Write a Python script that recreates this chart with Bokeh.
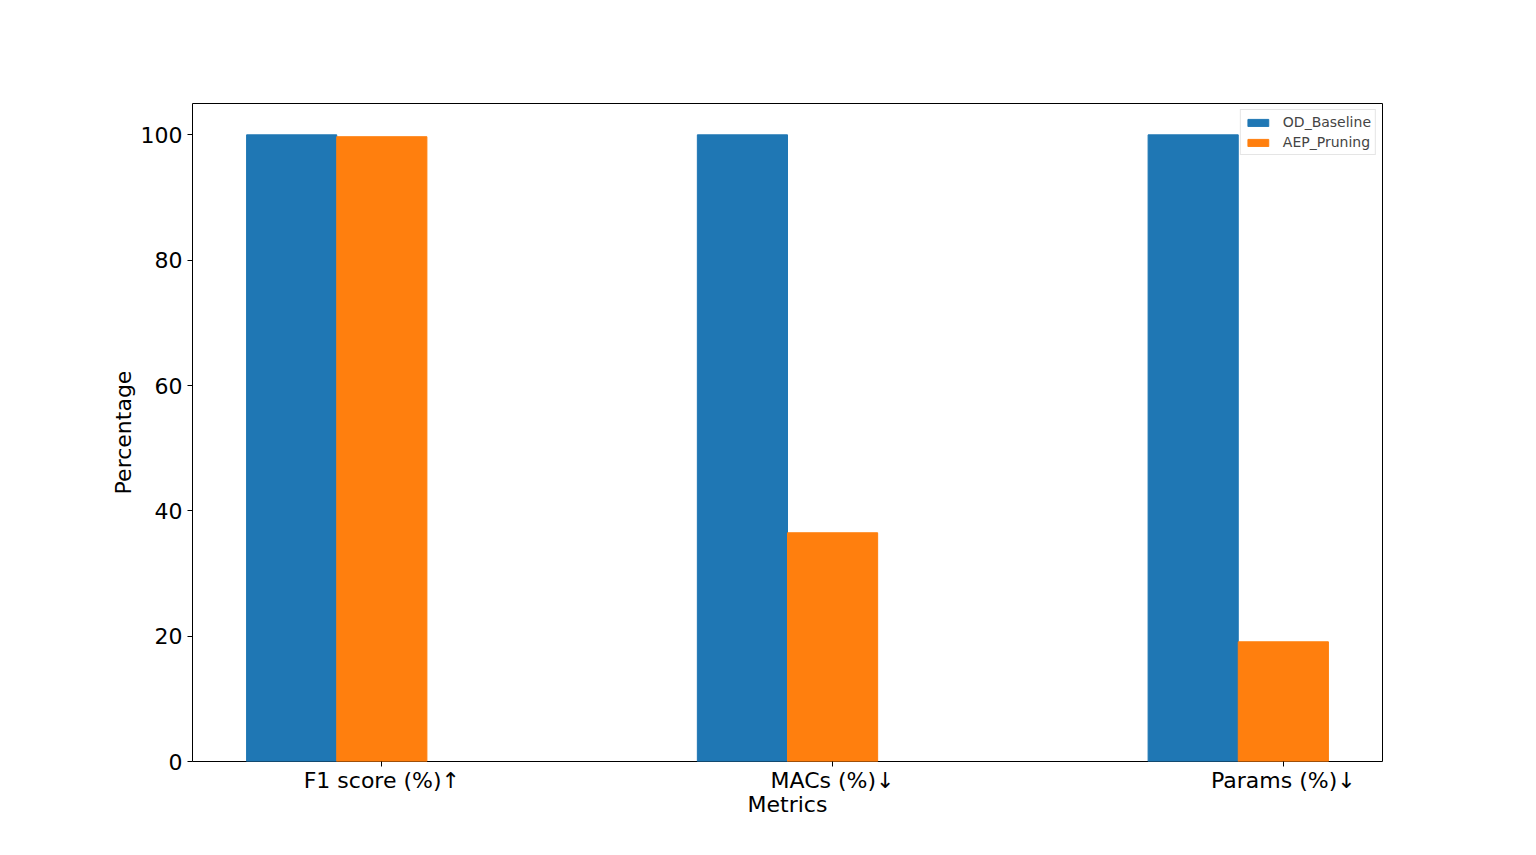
from bokeh.plotting import figure
from bokeh.models import Range1d, FixedTicker, ColumnDataSource
from bokeh.embed import file_html
from bokeh.resources import INLINE

categories = ["F1 score (%)↑", "MACs (%)↓", "Params (%)↓"]
od_baseline = [100.0, 100.0, 100.0]
aep_pruning = [99.7, 36.5, 19.1]
y_ticks = [0, 20, 40, 60, 80, 100]

bar_w = 0.2
idx = list(range(len(categories)))
src_a = ColumnDataSource(dict(x=[i for i in idx], top=od_baseline))
src_b = ColumnDataSource(dict(x=[i + bar_w for i in idx], top=aep_pruning))

FONT = "DejaVu Sans"

p = figure(width=1520, height=839, output_backend="svg", toolbar_location=None,
           x_range=Range1d(-0.22, 2.42), y_range=Range1d(0, 105))
p.min_border_left = 192
p.min_border_right = 138
p.min_border_top = 103
p.min_border_bottom = 78

p.vbar(x="x", top="top", width=bar_w, source=src_a, color="#1f77b4", legend_label="OD_Baseline")
p.vbar(x="x", top="top", width=bar_w, source=src_b, color="#ff7f0e", legend_label="AEP_Pruning")

p.xgrid.visible = False
p.ygrid.visible = False
p.outline_line_color = "black"
p.outline_line_width = 1

p.xaxis.ticker = FixedTicker(ticks=[i + bar_w for i in idx])
p.xaxis.major_label_overrides = {i + bar_w: c for i, c in zip(idx, categories)}
p.yaxis.ticker = FixedTicker(ticks=y_ticks)
p.xaxis.axis_label = "Metrics"
p.yaxis.axis_label = "Percentage"

for ax in (p.xaxis[0], p.yaxis[0]):
    ax.axis_line_color = None
    ax.minor_tick_line_color = None
    ax.major_tick_out = 5
    ax.major_tick_in = 0
    ax.major_tick_line_color = "black"
    ax.major_label_text_font = FONT
    ax.major_label_text_font_size = "22px"
    ax.major_label_text_color = "black"
    ax.axis_label_text_font = FONT
    ax.axis_label_text_font_size = "22px"
    ax.axis_label_text_font_style = "normal"
    ax.axis_label_text_color = "black"

p.xaxis.major_label_standoff = 1
p.yaxis.major_label_standoff = 5
p.xaxis.axis_label_standoff = -4
p.yaxis.axis_label_standoff = 2

lg = p.legend[0]
lg.location = "top_right"
lg.margin = 6
lg.padding = 4
lg.spacing = 4
lg.label_text_font = FONT
lg.label_text_font_size = "14px"
lg.glyph_width = 26
lg.glyph_height = 9
lg.label_standoff = 12
lg.border_line_color = "#cccccc"
lg.border_line_width = 1
lg.background_fill_alpha = 0.8

open("out.html", "w").write(file_html(p, INLINE))
